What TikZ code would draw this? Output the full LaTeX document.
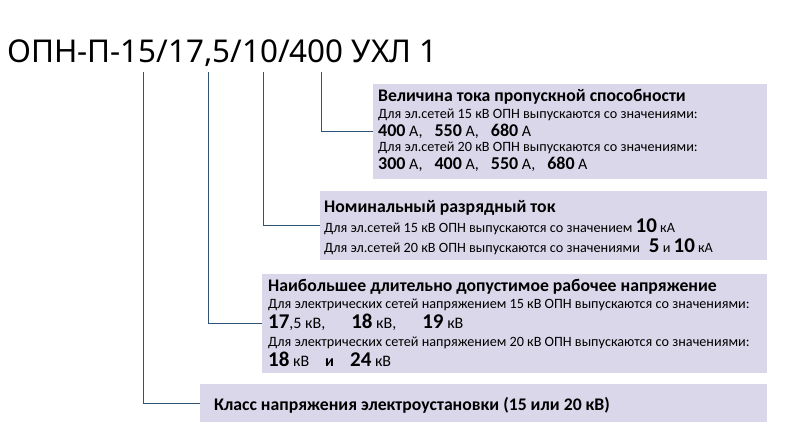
\documentclass[tikz,border=0pt]{standalone}
\usepackage{fontspec}
\setmainfont{Carlito}
\newfontfamily\titlefont{Noto Sans}
\usepackage{tikz}
\definecolor{leadcol}{HTML}{2F5478}
\definecolor{boxfill}{HTML}{D9D7E9}
\newcommand{\hd}{\fontsize{17.7}{17.7}\selectfont\bfseries}
\newcommand{\sm}{\fontsize{14.2}{14.2}\selectfont}
\newcommand{\un}{\fontsize{16}{16}\selectfont}
\newcommand{\val}[1]{{\fontsize{18}{18}\selectfont\bfseries #1}}
\newcommand{\bigval}[1]{{\fontsize{21}{21}\selectfont\bfseries #1}}

\begin{document}
\begin{tikzpicture}[x=1pt,y=-1pt]
\tikzstyle{every node}+=[inner sep=0pt]
\tikzstyle{box}=[fill=boxfill, anchor=north west]
\tikzstyle{txt}=[anchor=base west]
\tikzstyle{lead}=[draw=leadcol, line width=1.2pt]
\useasboundingbox (0,0) rectangle (801,432);
% marking
\node[anchor=base west, font=\titlefont\fontsize{31.4}{31.4}\selectfont] (title) at (7,62) {ОПН-П-15/17,5/10/400 УХЛ 1};
\coordinate (t1) at (143.5,72);
\coordinate (t2) at (208.5,72);
\coordinate (t3) at (263.5,72);
\coordinate (t4) at (321.5,72);
% boxes
\node[box, minimum width=394pt, minimum height=95pt] (cap) at (373,84) {};
\node[box, minimum width=447pt, minimum height=69pt] (disch) at (320,191) {};
\node[box, minimum width=505pt, minimum height=99pt] (volt) at (262,274) {};
\node[box, minimum width=567pt, minimum height=38pt] (cls) at (200,384) {};
% leaders
\draw[lead] (t4) |- (cap.west);
\draw[lead] (t3) |- (disch.west);
\draw[lead] (t2) |- (volt.west);
\draw[lead] (t1) |- (cls.west);
% throughput current
\node[txt, font=\hd] (cap-h) at (378,101) {Величина тока пропускной способности};
\node[txt, font=\sm] (cap-a) at (378,118) {Для эл.сетей 15 кВ ОПН выпускаются со значениями:};
\node[txt, font=\un] (cap-b) at (378,136) {\val{400} А,\hspace{12pt}\val{550} А,\hspace{12pt}\val{680} А};
\node[txt, font=\sm] (cap-c) at (378,151) {Для эл.сетей 20 кВ ОПН выпускаются со значениями:};
\node[txt, font=\un] (cap-d) at (378,169) {\val{300} А,\hspace{12pt}\val{400} А,\hspace{12pt}\val{550} А,\hspace{12pt}\val{680} А};
% discharge current
\node[txt, font=\hd] (disch-h) at (324,212) {Номинальный разрядный ток};
\node[txt, font=\sm] (disch-a) at (324,232) {Для эл.сетей 15 кВ ОПН выпускаются со значением \bigval{10} кА};
\node[txt, font=\sm] (disch-b) at (324,252) {Для эл.сетей 20 кВ ОПН выпускаются со значениями\hspace{9pt}\bigval{5} и \bigval{10} кА};
% max operating voltage
\node[txt, font=\hd] (volt-h) at (268,291) {Наибольшее длительно допустимое рабочее напряжение};
\node[txt, font=\sm] (volt-a) at (268,308) {Для электрических сетей напряжением 15 кВ ОПН выпускаются со значениями:};
\node[txt, font=\un] (volt-b) at (268,328) {\bigval{17},5 кВ,\hspace{26pt}\bigval{18} кВ,\hspace{26pt}\bigval{19} кВ};
\node[txt, font=\sm] (volt-c) at (268,346) {Для электрических сетей напряжением 20 кВ ОПН выпускаются со значениями:};
\node[txt, font=\un] (volt-d) at (268,366) {\bigval{18} кВ\hspace{16pt}\textbf{и}\hspace{16pt}\bigval{24} кВ};
% voltage class
\node[txt, font=\hd] (cls-h) at (214,410) {Класс напряжения электроустановки (15 или 20 кВ)};
\end{tikzpicture}
\end{document}
